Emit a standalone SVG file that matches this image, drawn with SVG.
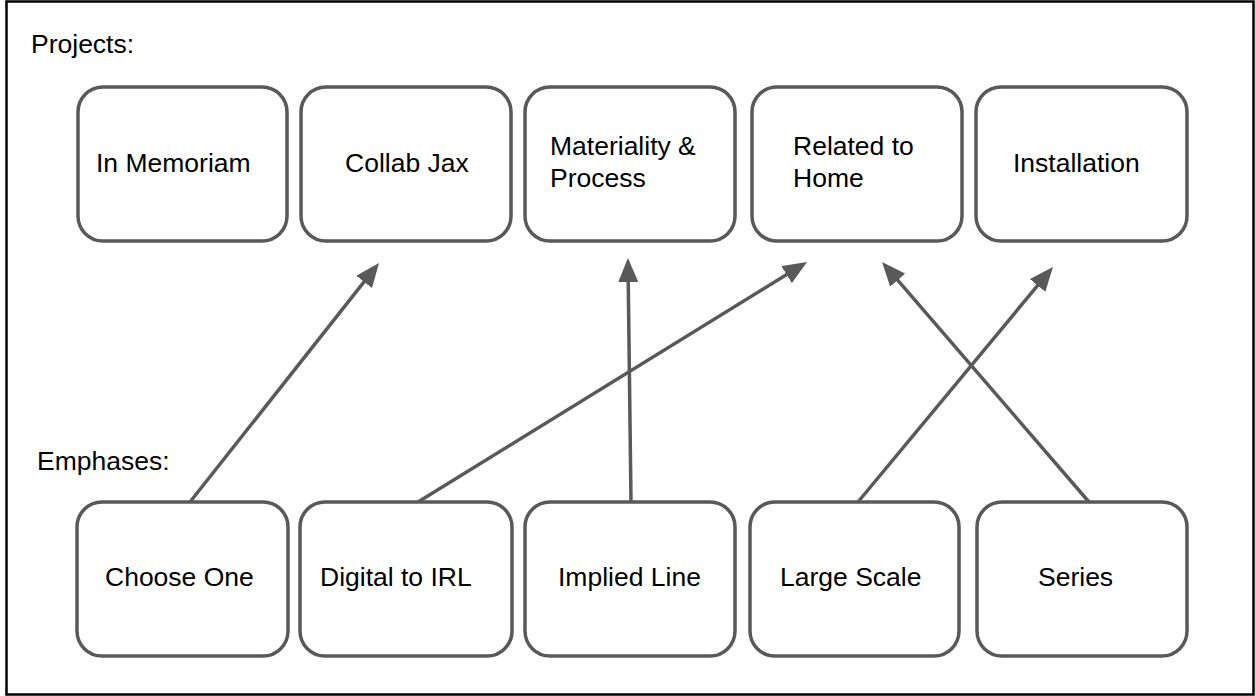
<svg xmlns="http://www.w3.org/2000/svg" width="1255" height="696" viewBox="0 0 1255 696">
  <style>
    .box { fill: #ffffff; stroke: #595959; stroke-width: 3.5; }
    .lbl { font-family: "Liberation Sans", Arial, sans-serif; font-size: 26.5px; fill: #000000; }
    .conn { stroke: #595959; stroke-width: 3.5; fill: none; marker-end: url(#arrow); }
  </style>
  <defs>
    <marker id="arrow" viewBox="0 0 24 20" refX="4" refY="10" markerWidth="24" markerHeight="20" markerUnits="userSpaceOnUse" orient="auto">
      <path d="M0,0 L24,10 L0,20 z" fill="#595959"/>
    </marker>
  </defs>
  <rect x="0" y="0" width="1255" height="696" fill="#ffffff"/>
  <rect x="6.5" y="1.5" width="1247" height="693" fill="none" stroke="#000000" stroke-width="2.5"/>

  <text class="lbl" x="31" y="53">Projects:</text>
  <text class="lbl" x="37" y="470">Emphases:</text>

  <g id="connectors">
    <line class="conn" x1="190" y1="502" x2="366.6" y2="278.7"/>
    <line class="conn" x1="418" y1="502" x2="790" y2="272.5"/>
    <line class="conn" x1="631" y1="502" x2="628.2" y2="278"/>
    <line class="conn" x1="858" y1="502" x2="1040.2" y2="282.4"/>
    <line class="conn" x1="1089" y1="502" x2="895.1" y2="277.1"/>
  </g>

  <g id="in-memoriam">
    <rect class="box" x="78" y="87" width="209" height="154" rx="25"/>
    <text class="lbl" x="96" y="171.5">In Memoriam</text>
  </g>
  <g id="collab-jax">
    <rect class="box" x="301" y="87" width="210" height="154" rx="25"/>
    <text class="lbl" x="345" y="171.5">Collab Jax</text>
  </g>
  <g id="materiality-process">
    <rect class="box" x="525" y="87" width="210" height="154" rx="25"/>
    <text class="lbl" x="550" y="155">Materiality &amp;</text>
    <text class="lbl" x="550" y="186.5">Process</text>
  </g>
  <g id="related-to-home">
    <rect class="box" x="752" y="87" width="210" height="154" rx="25"/>
    <text class="lbl" x="793" y="155">Related to</text>
    <text class="lbl" x="793" y="186.5">Home</text>
  </g>
  <g id="installation">
    <rect class="box" x="976" y="87" width="211" height="154" rx="25"/>
    <text class="lbl" x="1013" y="171.5">Installation</text>
  </g>

  <g id="choose-one">
    <rect class="box" x="77" y="502" width="211" height="154" rx="25"/>
    <text class="lbl" x="105" y="586">Choose One</text>
  </g>
  <g id="digital-to-irl">
    <rect class="box" x="300" y="502" width="212" height="154" rx="25"/>
    <text class="lbl" x="320" y="586">Digital to IRL</text>
  </g>
  <g id="implied-line">
    <rect class="box" x="525" y="502" width="210" height="154" rx="25"/>
    <text class="lbl" x="558" y="586">Implied Line</text>
  </g>
  <g id="large-scale">
    <rect class="box" x="750" y="502" width="209" height="154" rx="25"/>
    <text class="lbl" x="780" y="586">Large Scale</text>
  </g>
  <g id="series">
    <rect class="box" x="977" y="502" width="210" height="154" rx="25"/>
    <text class="lbl" x="1038" y="586">Series</text>
  </g>
</svg>
